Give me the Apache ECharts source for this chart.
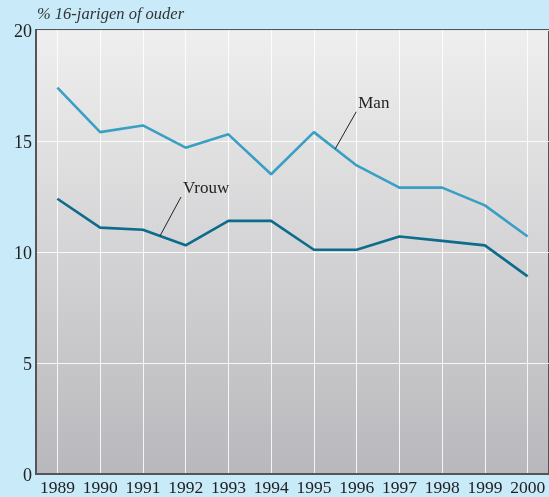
<!DOCTYPE html>
<html><head><meta charset="utf-8">
<script src="https://cdn.jsdelivr.net/npm/echarts@6/dist/echarts.min.js"></script>
<style>html,body{margin:0;padding:0;background:#c8eaf9;}#c{width:549px;height:497px;}</style>
</head><body><div id="c"></div>
<script>
const years = ['1989','1990','1991','1992','1993','1994','1995','1996','1997','1998','1999','2000'];
const man   = [17.4, 15.4, 15.7, 14.7, 15.3, 13.5, 15.4, 13.9, 12.9, 12.9, 12.1, 10.7];
const vrouw = [12.4, 11.1, 11.0, 10.3, 11.4, 11.4, 10.1, 10.1, 10.7, 10.5, 10.3, 8.9];
const yTicks = [0, 5, 10, 15, 20];
const seriesNames = ['Man', 'Vrouw'];
const yTitle = '% 16-jarigen of ouder';

const font = '"Liberation Serif", "DejaVu Serif", serif';
const chart = echarts.init(document.getElementById('c'), null, {renderer: 'canvas'});
chart.setOption({
  backgroundColor: '#c8eaf9',
  animation: false,
  grid: {
    left: 36, right: -3, top: 30, bottom: 21, show: true,
    borderColor: '#555', borderWidth: 2,
    backgroundColor: new echarts.graphic.LinearGradient(0, 0, 0, 1, [
      {offset: 0, color: '#efefef'}, {offset: 1, color: '#b8b8bc'}
    ])
  },
  xAxis: {
    type: 'category', data: years, boundaryGap: true,
    axisLine: {show: true, lineStyle: {color: '#555', width: 2}},
    axisTick: {show: false},
    axisLabel: {color: '#222', fontFamily: font, fontSize: 17.5, margin: 5, interval: 0},
    splitLine: {show: true, alignWithLabel: true, lineStyle: {color: 'rgba(255,255,255,0.85)', width: 1}}
  },
  yAxis: {
    type: 'value', min: yTicks[0], max: yTicks[yTicks.length - 1], interval: 5,
    name: yTitle, nameLocation: 'end', nameGap: 7,
    nameTextStyle: {color: '#333', fontFamily: font, fontStyle: 'italic', fontSize: 16.5, align: 'left', padding: [0, 0, 0, 1]},
    axisLine: {show: true, lineStyle: {color: '#555', width: 2}},
    axisTick: {show: false},
    axisLabel: {color: '#222', fontFamily: font, fontSize: 18, margin: 4, verticalAlign: 'top', padding: [-7, 0, 0, 0]},
    splitLine: {show: true, lineStyle: {color: 'rgba(255,255,255,0.85)', width: 1.2}}
  },
  series: [
    {name: seriesNames[0], type: 'line', data: man, symbol: 'none',
     lineStyle: {color: '#3a9fc4', width: 2.6}, itemStyle: {color: '#3a9fc4'}},
    {name: seriesNames[1], type: 'line', data: vrouw, symbol: 'none',
     lineStyle: {color: '#0d6b8c', width: 2.6}, itemStyle: {color: '#0d6b8c'}}
  ]
});

function anchor(data, i, t) {
  const a = chart.convertToPixel({gridIndex: 0}, [i, data[i]]);
  const b = chart.convertToPixel({gridIndex: 0}, [i + 1, data[i + 1]]);
  return [a[0] + (b[0] - a[0]) * t, a[1] + (b[1] - a[1]) * t];
}
const pm = anchor(man, 6, 0.5);
const pv = anchor(vrouw, 2, 0.4);
function ann(p, name, dy) {
  return [
    {type: 'line', shape: {x1: p[0], y1: p[1], x2: p[0] + 21, y2: p[1] + dy}, style: {stroke: '#222', lineWidth: 1}, z: 100},
    {type: 'text', x: p[0] + 23, y: p[1] + dy - 8, style: {text: name, fill: '#222', font: '17px ' + font, textVerticalAlign: 'middle'}, z: 100}
  ];
}
chart.setOption({graphic: ann(pm, seriesNames[0], -37).concat(ann(pv, seriesNames[1], -39))});
</script></body></html>
